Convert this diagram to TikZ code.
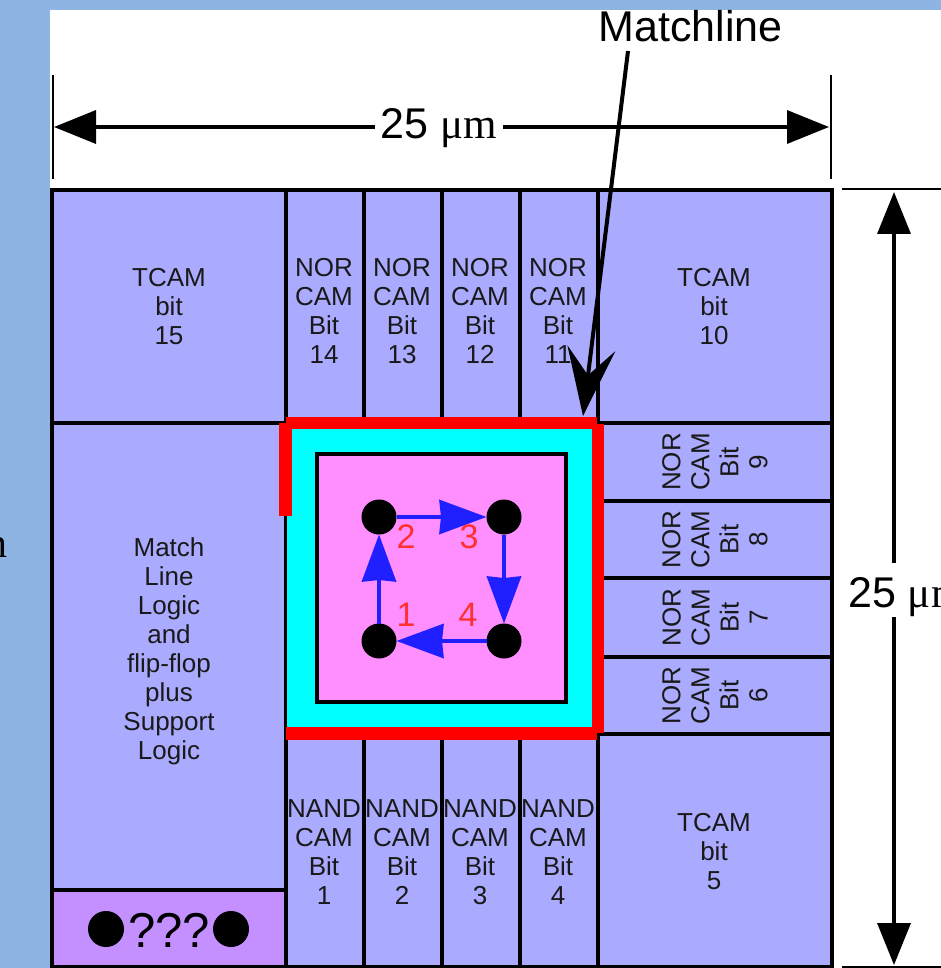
\documentclass[tikz,border=0pt]{standalone}
\usepackage{fontspec}
\setmainfont{Liberation Sans}
\newfontfamily\serifface{Liberation Serif}
\usetikzlibrary{arrows.meta}
\definecolor{pagebg}{HTML}{8DB4E2}
\definecolor{cellfill}{HTML}{AAAAFF}
\definecolor{logicfill}{HTML}{C48FFF}
\definecolor{corefill}{HTML}{FF8FFF}
\definecolor{ringfill}{HTML}{00FFFF}
\definecolor{wirered}{HTML}{FF0000}
\definecolor{pathblue}{HTML}{1F1FFF}
\definecolor{labelred}{HTML}{FF3030}
\newcommand{\cellbox}[6]{%
  \pgfmathsetmacro{\cbw}{#4-#2}\pgfmathsetmacro{\cbh}{#5-#3}%
  \node[cellshape,fill=#6,minimum width=\cbw pt,minimum height=\cbh pt] (#1) at ({(#2+#4)/2},{(#3+#5)/2}) {};}
\tikzset{
  cellshape/.style={draw=black,line width=4pt,inner sep=0pt,outer sep=0pt},
  celltext/.style={font=\fontsize{26}{29}\selectfont,align=center,inner sep=0pt,text=black!90},
  rottext/.style={celltext,rotate=90},
  dimtext/.style={font=\fontsize{43}{46}\selectfont,inner sep=0pt,fill=white,inner xsep=6pt,text height=44pt,text depth=10pt},
  dimline/.style={line width=3.5pt,{Triangle[length=42pt,width=33pt]}-{Triangle[length=42pt,width=33pt]}},
  tickline/.style={line width=2pt},
  redbar/.style={fill=wirered,draw=none,inner sep=0pt,outer sep=0pt},
  dotnode/.style={circle,fill=black,inner sep=0pt,outer sep=0pt,minimum size=35pt},
  bigdot/.style={circle,fill=black,inner sep=0pt,outer sep=0pt,minimum size=36pt},
  patharrow/.style={draw=pathblue,line width=4pt,-{Stealth[length=47pt,width=34pt,inset=1.5pt]}},
  redlabel/.style={font=\fontsize{34}{36}\selectfont,text=labelred,inner sep=0pt,anchor=base},
}
\begin{document}
\begin{tikzpicture}[x=1pt,y=-1pt]
\useasboundingbox (0,0) rectangle (941,968);
\fill[pagebg] (0,0) rectangle (941,968);
\fill[white] (50,10) rectangle (941,968);
\node[font=\serifface\fontsize{42}{46}\selectfont,anchor=base east,inner sep=0pt] (clipa) at (7.5,557) {n};

% top row
\cellbox{t15}{52}{190}{285.5}{423}{cellfill}
\cellbox{n14}{285.5}{190}{363.5}{423}{cellfill}
\cellbox{n13}{363.5}{190}{441.5}{423}{cellfill}
\cellbox{n12}{441.5}{190}{519.5}{423}{cellfill}
\cellbox{n11}{519.5}{190}{598}{423}{cellfill}
\cellbox{t10}{598}{190}{832}{423}{cellfill}
% right column
\cellbox{n9}{598}{423}{832}{500.5}{cellfill}
\cellbox{n8}{598}{500.5}{832}{578}{cellfill}
\cellbox{n7}{598}{578}{832}{656.5}{cellfill}
\cellbox{n6}{598}{656.5}{832}{734}{cellfill}
% left column
\cellbox{logic}{52}{423}{285.5}{890}{cellfill}
\cellbox{unk}{52}{890}{285.5}{967}{logicfill}
% bottom row
\cellbox{b1}{285.5}{734}{363.5}{967}{cellfill}
\cellbox{b2}{363.5}{734}{441.5}{967}{cellfill}
\cellbox{b3}{441.5}{734}{519.5}{967}{cellfill}
\cellbox{b4}{519.5}{734}{598}{967}{cellfill}
\cellbox{t5}{598}{734}{832}{967}{cellfill}

% texts
\node[celltext] (lt15) at (169,307) {TCAM\\bit\\15};
\node[celltext] (lt10) at (714,307) {TCAM\\bit\\10};
\node[celltext] (lt5) at (714,852) {TCAM\\bit\\5};
\node[celltext] (ln14) at (324,311) {NOR\\CAM\\Bit\\14};
\node[celltext] (ln13) at (402,311) {NOR\\CAM\\Bit\\13};
\node[celltext] (ln12) at (480,311) {NOR\\CAM\\Bit\\12};
\node[celltext] (ln11) at (558,311) {NOR\\CAM\\Bit\\11};
\node[celltext] (lb1) at (324,852) {NAND\\CAM\\Bit\\1};
\node[celltext] (lb2) at (402,852) {NAND\\CAM\\Bit\\2};
\node[celltext] (lb3) at (480,852) {NAND\\CAM\\Bit\\3};
\node[celltext] (lb4) at (558,852) {NAND\\CAM\\Bit\\4};
\node[rottext] (ln9) at (715,462) {NOR\\CAM\\Bit\\9};
\node[rottext] (ln8) at (715,539.5) {NOR\\CAM\\Bit\\8};
\node[rottext] (ln7) at (715,617.5) {NOR\\CAM\\Bit\\7};
\node[rottext] (ln6) at (715,695.5) {NOR\\CAM\\Bit\\6};
\node[celltext] (llogic) at (169,651) {Match\\Line\\Logic\\and\\flip-flop\\plus\\Support\\Logic};
\node[font=\fontsize{49}{52}\selectfont,inner sep=0pt,anchor=base] (lunk) at (169,947) {???};
\node[bigdot] (ua) at (106,929) {};
\node[bigdot] (ub) at (231,929) {};

% core
\fill[ringfill] (287,429) rectangle (594,729);
\node[cellshape,fill=corefill,minimum width=249pt,minimum height=248pt] (core) at (441.5,578) {};
\node[redbar,minimum width=311pt,minimum height=12.5pt] (rtop) at (441.5,423.2) {};
\node[redbar,minimum width=13pt,minimum height=93pt] (rleft) at (285.5,469.5) {};
\node[redbar,minimum width=12.5pt,minimum height=309pt] (rright) at (598,578.5) {};
\node[redbar,minimum width=311pt,minimum height=12.5pt] (rbot) at (441.5,733.5) {};

\node[dotnode] (d1) at (379,641) {};
\node[dotnode] (d2) at (379,517) {};
\node[dotnode] (d3) at (504,517) {};
\node[dotnode] (d4) at (504,641) {};
\draw[patharrow] (d1) -- (d2);
\draw[patharrow] (d2) -- (d3);
\draw[patharrow] (d3) -- (d4);
\draw[patharrow] (d4) -- (d1);
\node[redlabel] (l2) at (406,548) {2};
\node[redlabel] (l3) at (469,548) {3};
\node[redlabel] (l1) at (406,626) {1};
\node[redlabel] (l4) at (468,626) {4};

% horizontal dimension
\coordinate (ha) at (54,127);
\coordinate (hb) at (829,127);
\coordinate (hta) at (52.5,75);
\coordinate (htb) at (52.5,179);
\coordinate (hua) at (830.5,75);
\coordinate (hub) at (830.5,179);
\draw[tickline] (hta) -- (htb);
\draw[tickline] (hua) -- (hub);
\draw[dimline] (ha) -- (hb);
\node[dimtext,anchor=base] (hlabel) at (439,139) {25 {\serifface μm}};

% vertical dimension
\coordinate (va) at (894,192);
\coordinate (vb) at (894,965);
\coordinate (vta) at (842,189.5);
\coordinate (vtb) at (941,189.5);
\coordinate (vua) at (842,966.5);
\coordinate (vub) at (941,966.5);
\draw[tickline] (vta) -- (vtb);
\draw[tickline] (vua) -- (vub);
\draw[dimline] (va) -- (vb);
\node[dimtext,anchor=base west] (vlabel) at (842,607) {25 {\serifface μm}};

% matchline
\node[font=\fontsize{43}{46}\selectfont,anchor=base,inner sep=0pt] (ml) at (690.5,42) {Matchline};
\coordinate (mla) at (628,51);
\coordinate (mlb) at (583,416);
\draw[line width=4pt,-{Stealth[length=68pt,width=48pt,inset=27pt]}] (mla) -- (mlb);
\end{tikzpicture}
\end{document}
